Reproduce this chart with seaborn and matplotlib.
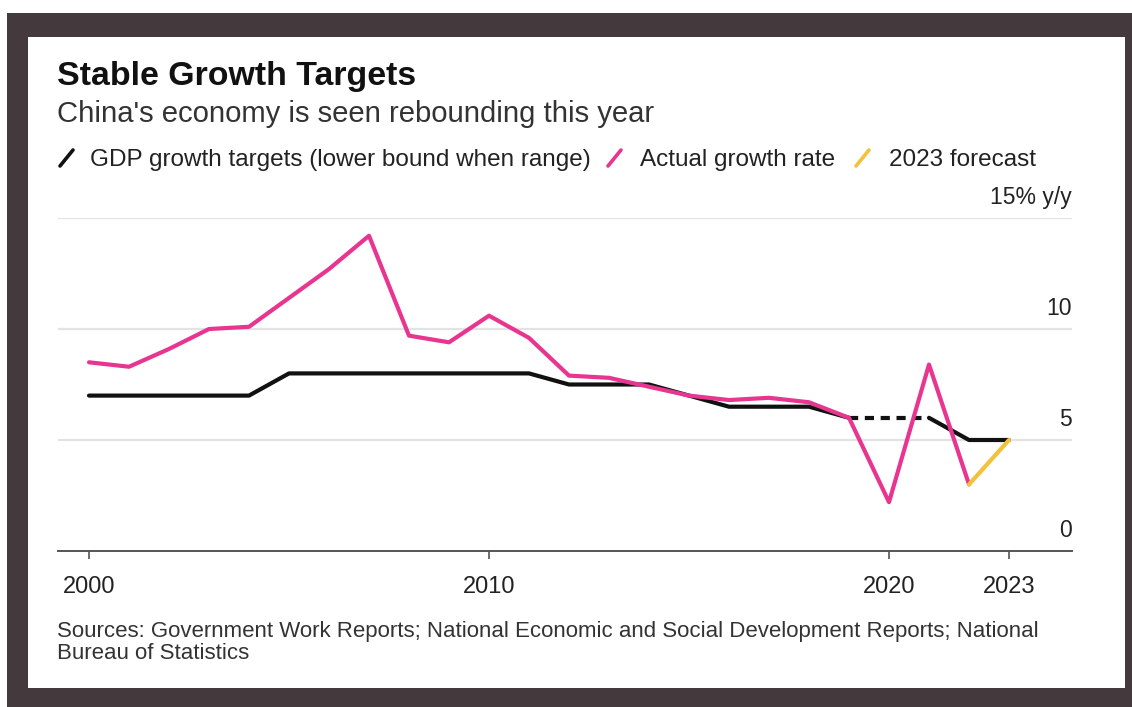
import matplotlib
matplotlib.use("Agg")
import matplotlib.pyplot as plt
from matplotlib.patches import Rectangle
from matplotlib.lines import Line2D
import matplotlib.transforms as mtransforms
import pandas as pd
import seaborn as sns

# ---- data -------------------------------------------------------------
actual_years = list(range(2000, 2023))
actual_growth = [8.5, 8.3, 9.1, 10.0, 10.1, 11.4, 12.7, 14.2, 9.7, 9.4, 10.6,
                 9.6, 7.9, 7.8, 7.4, 7.0, 6.8, 6.9, 6.7, 6.0, 2.2, 8.4, 3.0]

target_years = [2000, 2001, 2002, 2003, 2004, 2005, 2006, 2007, 2008, 2009,
                2010, 2011, 2012, 2013, 2014, 2015, 2016, 2017, 2018, 2019,
                2021, 2022, 2023]
target_growth = [7.0, 7.0, 7.0, 7.0, 7.0, 8.0, 8.0, 8.0, 8.0, 8.0,
                 8.0, 8.0, 7.5, 7.5, 7.5, 7.0, 6.5, 6.5, 6.5, 6.0,
                 6.0, 5.0, 5.0]
no_target_gap = (2019, 2021)   # no target was set for 2020

forecast_years = [2022, 2023]
forecast_growth = [3.0, 5.0]

x_ticks = [2000, 2010, 2020, 2023]
y_ticks = [0, 5, 10, 15]
y_tick_labels = ["0", "5", "10", "15% y/y"]

title = "Stable Growth Targets"
subtitle = "China's economy is seen rebounding this year"
legend_labels = ["GDP growth targets (lower bound when range)",
                 "Actual growth rate", "2023 forecast"]
source_lines = ["Sources: Government Work Reports; National Economic and Social "
                "Development Reports; National",
                "Bureau of Statistics"]

# ---- styling ----------------------------------------------------------
W, H = 1132, 707
PINK = "#e8358f"
BLACK = "#111111"
YELLOW = "#f2c23a"
GRID = "#e3e3e3"
AXIS = "#555555"
TEXT = "#222222"
FRAME = "#44393d"

sns.set_theme(style="white")
plt.rcParams["font.family"] = ["Liberation Sans", "DejaVu Sans"]

fig = plt.figure(figsize=(W / 100, H / 100), dpi=100)
fig.patch.set_facecolor("white")


def fx(x):
    return x / W


def fy(y):
    return 1 - y / H


# dark frame and white card behind the chart
fig.patches.append(Rectangle((fx(7), fy(H)), fx(W - 7), (H - 13) / H,
                             transform=fig.transFigure, facecolor=FRAME,
                             edgecolor="none", zorder=-10))
fig.patches.append(Rectangle((fx(28), fy(688)), fx(1125 - 28), (688 - 37) / H,
                             transform=fig.transFigure, facecolor="white",
                             edgecolor="none", zorder=-9))

# ---- plot area --------------------------------------------------------
left, right, top, bottom = 58, 1072, 218, 551
ax = fig.add_axes([fx(left), fy(bottom), fx(right - left), (bottom - top) / H])
ax.set_facecolor("none")

actual_df = pd.DataFrame({"year": actual_years, "growth": actual_growth})
target_df = pd.DataFrame({"year": target_years, "growth": target_growth})
forecast_df = pd.DataFrame({"year": forecast_years, "growth": forecast_growth})

g0, g1 = no_target_gap
solid_a = target_df[target_df.year <= g0]
dashed = target_df[(target_df.year >= g0) & (target_df.year <= g1)]
solid_b = target_df[target_df.year >= g1]

lw = 3.0
for seg in (solid_a, solid_b):
    sns.lineplot(data=seg, x="year", y="growth", ax=ax, color=BLACK,
                 linewidth=lw, zorder=3)
sns.lineplot(data=dashed, x="year", y="growth", ax=ax, color=BLACK,
             linewidth=lw, linestyle=(0, (2.2, 1.6)), zorder=3)
sns.lineplot(data=actual_df, x="year", y="growth", ax=ax, color=PINK,
             linewidth=lw, zorder=4)
sns.lineplot(data=forecast_df, x="year", y="growth", ax=ax, color=YELLOW,
             linewidth=lw, zorder=5)

ax.set_xlim(2000 - 31 / 40, 2000 + (right - 89) / 40)
ax.set_ylim(0, 15)
ax.set_xlabel("")
ax.set_ylabel("")

# gridlines (0 is drawn as the axis line)
ax.set_yticks(y_ticks)
ax.set_yticklabels([])
ax.tick_params(axis="y", length=0)
for v in y_ticks[1:]:
    ax.axhline(v, color=GRID, linewidth=1.6, zorder=1)

# value labels sit just above each gridline at the right edge
lab_tr = mtransforms.blended_transform_factory(ax.transAxes, ax.transData)
lift = mtransforms.ScaledTranslation(0, 14 / 100, fig.dpi_scale_trans)
for v, lab in zip(y_ticks, y_tick_labels):
    ax.text(1.0, v, lab, transform=lab_tr + lift,
            ha="right", va="baseline", fontsize=16.5, color=TEXT)

for side in ("top", "right", "left"):
    ax.spines[side].set_visible(False)
ax.spines["bottom"].set_color(AXIS)
ax.spines["bottom"].set_linewidth(1.4)

ax.set_xticks(x_ticks)
ax.set_xticklabels([str(t) for t in x_ticks])
ax.tick_params(axis="x", direction="out", length=6, width=1.2, color=AXIS,
               pad=12, labelsize=17, labelcolor=TEXT, bottom=True)

# ---- titles, legend, source -------------------------------------------
fig.text(fx(57), fy(85), title, fontsize=24.4, fontweight="bold",
         color="#111111", va="baseline", ha="left")
fig.text(fx(57), fy(122), subtitle, fontsize=21.1, color="#333333",
         va="baseline", ha="left")

legend_items = [(BLACK, 60, 90), (PINK, 608, 640), (YELLOW, 856, 889)]
for (col, sx, tx), lab in zip(legend_items, legend_labels):
    fig.add_artist(Line2D([fx(sx), fx(sx + 13)], [fy(166), fy(150)],
                          transform=fig.transFigure, color=col, linewidth=2.6,
                          solid_capstyle="round"))
    fig.text(fx(tx), fy(166), lab, fontsize=17.5, color=TEXT,
             va="baseline", ha="left")

for i, line in enumerate(source_lines):
    fig.text(fx(57), fy(637 + 22 * i), line, fontsize=16, color="#333333",
             va="baseline", ha="left")

fig.savefig("out.png", dpi=100)
